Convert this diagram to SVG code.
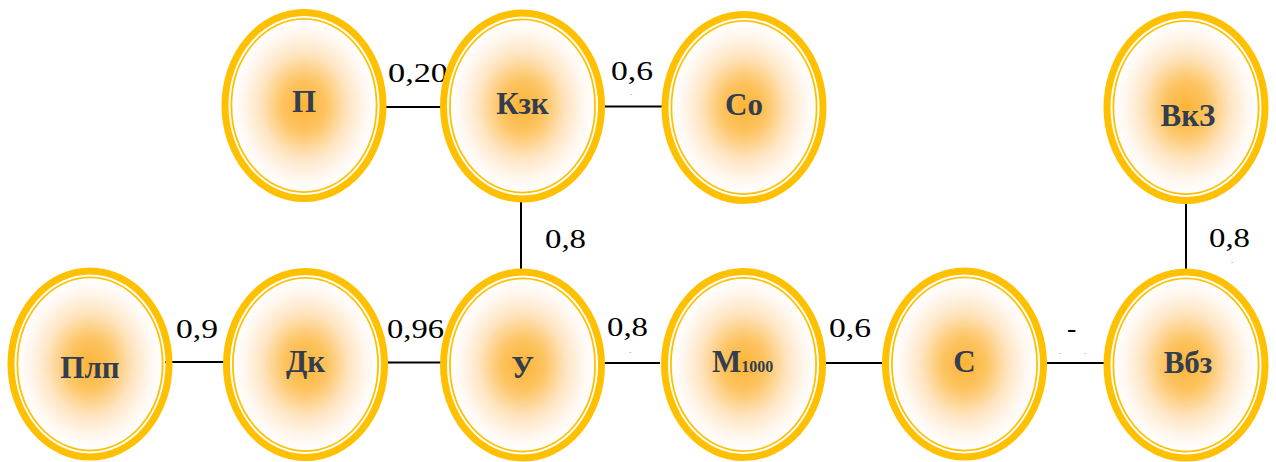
<svg xmlns="http://www.w3.org/2000/svg" width="1276" height="462" viewBox="0 0 1276 462">
<defs>
<radialGradient id="fillGrad" cx="0.5" cy="0.5" r="0.5">
<stop offset="0" stop-color="#FCB437"/>
<stop offset="0.3" stop-color="#FDC462"/>
<stop offset="0.6" stop-color="#FEE5C2"/>
<stop offset="0.85" stop-color="#FFF8F1"/>
<stop offset="1" stop-color="#FFFFFF"/>
</radialGradient>
</defs>
<style>
.fill{fill:url(#fillGrad);stroke:none}
.outer{fill:none;stroke:#FFC000;stroke-width:7}
.inner{fill:none;stroke:#FFC000;stroke-width:1.8}
.lbl{font-family:"Liberation Serif","Times New Roman",serif;font-weight:bold;font-size:31px;fill:#323E4F;text-anchor:middle}
.sub{font-size:16px}
.edge{stroke:#000;stroke-width:2;fill:none}
.el{font-family:"Liberation Serif","Times New Roman",serif;font-size:28px;fill:#000}
.tiny{font-family:"Liberation Serif",serif;font-size:7px;fill:#777}
</style>
<rect width="1276" height="462" fill="#FFFFFF"/>
<g id="connectors">
<line class="edge" x1="386" y1="107" x2="445" y2="107"/>
<line class="edge" x1="602" y1="106.5" x2="662" y2="106.5"/>
<line class="edge" x1="521" y1="201" x2="521" y2="272"/>
<line class="edge" x1="165" y1="362" x2="225" y2="362"/>
<line class="edge" x1="388" y1="362.5" x2="441" y2="362.5"/>
<line class="edge" x1="598" y1="363" x2="660" y2="363"/>
<line class="edge" x1="822" y1="363" x2="882" y2="363"/>
<line class="edge" x1="1044" y1="363" x2="1105" y2="363"/>
<line class="edge" x1="1186" y1="199" x2="1186" y2="269"/>
<text class="el" x="388" y="82" textLength="60" lengthAdjust="spacingAndGlyphs">0,20</text>
<text class="el" x="611" y="80" textLength="42" lengthAdjust="spacingAndGlyphs">0,6</text>
<text class="el" x="545" y="248" textLength="41" lengthAdjust="spacingAndGlyphs">0,8</text>
<text class="el" x="1209" y="246.5" textLength="41" lengthAdjust="spacingAndGlyphs">0,8</text>
<text class="el" x="176" y="338" textLength="42" lengthAdjust="spacingAndGlyphs">0,9</text>
<text class="el" x="387" y="338" textLength="57" lengthAdjust="spacingAndGlyphs">0,96</text>
<text class="el" x="607" y="336" textLength="41" lengthAdjust="spacingAndGlyphs">0,8</text>
<text class="el" x="829" y="337" textLength="42" lengthAdjust="spacingAndGlyphs">0,6</text>
<text class="el" x="1067" y="337">-</text>
<text class="tiny" x="630" y="96">-</text>
<text class="tiny" x="629" y="354">-</text>
<text class="tiny" x="1059" y="355">-</text>
<text class="tiny" x="1084" y="355">-</text>
<text class="tiny" x="1231" y="264">-</text>
</g>
<g id="node-P" transform="translate(304,105.5)">
<ellipse class="fill" rx="73" ry="87"/>
<ellipse class="outer" rx="79" ry="93"/>
<ellipse class="inner" rx="72.6" ry="86.6"/>
<text class="lbl" x="0" y="6.5">П</text>
</g>
<g id="node-Kzk" transform="translate(522.5,106)">
<ellipse class="fill" rx="73" ry="87"/>
<ellipse class="outer" rx="79" ry="93"/>
<ellipse class="inner" rx="72.6" ry="86.6"/>
<text class="lbl" x="0" y="8">Кзк</text>
</g>
<g id="node-So" transform="translate(744,107.5)">
<ellipse class="fill" rx="73" ry="87"/>
<ellipse class="outer" rx="79" ry="93"/>
<ellipse class="inner" rx="72.6" ry="86.6"/>
<text class="lbl" x="0" y="7.5">Со</text>
</g>
<g id="node-VkZ" transform="translate(1186,107.5)">
<ellipse class="fill" rx="73" ry="87"/>
<ellipse class="outer" rx="79" ry="93"/>
<ellipse class="inner" rx="72.6" ry="86.6"/>
<text class="lbl" x="2" y="18">ВкЗ</text>
</g>
<g id="node-Plp" transform="translate(90,364)">
<ellipse class="fill" rx="73" ry="87"/>
<ellipse class="outer" rx="79" ry="93"/>
<ellipse class="inner" rx="72.6" ry="86.6"/>
<text class="lbl" x="0" y="14">Плп</text>
</g>
<g id="node-Dk" transform="translate(305.5,364.5)">
<ellipse class="fill" rx="73" ry="87"/>
<ellipse class="outer" rx="79" ry="93"/>
<ellipse class="inner" rx="72.6" ry="86.6"/>
<text class="lbl" x="0" y="7">Дк</text>
</g>
<g id="node-U" transform="translate(522.5,365)">
<ellipse class="fill" rx="73" ry="87"/>
<ellipse class="outer" rx="79" ry="93"/>
<ellipse class="inner" rx="72.6" ry="86.6"/>
<text class="lbl" x="0" y="13">У</text>
</g>
<g id="node-M1000" transform="translate(743.5,364.5)">
<ellipse class="fill" rx="73" ry="87"/>
<ellipse class="outer" rx="79" ry="93"/>
<ellipse class="inner" rx="72.6" ry="86.6"/>
<text class="lbl" x="-1" y="7">М<tspan class="sub">1000</tspan></text>
</g>
<g id="node-S" transform="translate(964.5,364)">
<ellipse class="fill" rx="73" ry="87"/>
<ellipse class="outer" rx="79" ry="93"/>
<ellipse class="inner" rx="72.6" ry="86.6"/>
<text class="lbl" x="0" y="8">С</text>
</g>
<g id="node-Vbz" transform="translate(1186,365)">
<ellipse class="fill" rx="73" ry="87"/>
<ellipse class="outer" rx="79" ry="93"/>
<ellipse class="inner" rx="72.6" ry="86.6"/>
<text class="lbl" x="2" y="7.5">Вбз</text>
</g>
</svg>
